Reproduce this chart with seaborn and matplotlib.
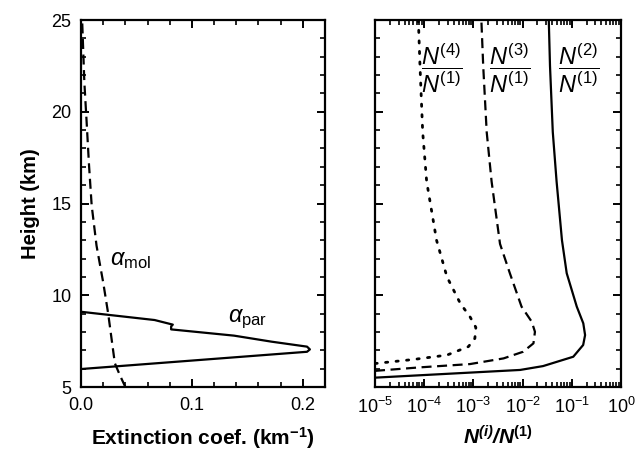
import numpy as np
import pandas as pd
import seaborn as sns
import matplotlib.pyplot as plt
from matplotlib.ticker import MultipleLocator, LogLocator, NullFormatter

# ---------------------------
# DATA
# ---------------------------
# left panel: extinction coefficient (km^-1) vs height (km)
par_height = [5.98, 6.92, 7.05, 7.20, 7.47, 7.80, 8.14, 8.30, 8.40, 8.65, 9.10]
par_ext = [0.0, 0.2039, 0.2065, 0.2039, 0.172, 0.138, 0.0813, 0.0813, 0.0828, 0.0664, 0.0]

mol_height = [5.0, 5.65, 6.3, 9.0, 10.7, 12.7, 14.9, 17.1, 19.5, 21.6, 25.0]
mol_ext = [0.040, 0.035, 0.0305, 0.0245, 0.020, 0.014, 0.0096, 0.0072, 0.005, 0.003, 0.001]

# right panel: concentration ratios vs height (km)
n2_height = [5.51, 5.93, 6.14, 6.65, 7.29, 7.83, 8.47, 9.38, 11.2, 13.0, 16.2, 18.9, 22.5, 25.0]
n2_ratio = [1e-5, 8.9e-3, 2.6e-2, 0.107, 0.17, 0.186, 0.171, 0.126, 0.0787, 0.063, 0.049, 0.041, 0.036, 0.034]

n3_height = [5.88, 6.07, 6.25, 6.56, 6.92, 7.38, 8.01, 8.56, 9.38, 11.2, 12.8, 16.2, 18.9, 22.5, 25.0]
n3_ratio = [1e-5, 8.1e-5, 8.5e-4, 4.1e-3, 1.02e-2, 1.66e-2, 1.78e-2, 1.53e-2, 9.5e-3, 5.5e-3,
            3.47e-3, 2.34e-3, 1.86e-3, 1.58e-3, 1.45e-3]

n4_height = [6.28, 6.5, 6.74, 7.2, 7.65, 8.25, 8.83, 9.56, 11.0, 13.0, 16.2, 18.9, 22.5, 25.0]
n4_ratio = [1e-5, 6.0e-5, 2.9e-4, 7.9e-4, 1.07e-3, 1.12e-3, 8.5e-4, 5.4e-4, 2.9e-4, 1.78e-4,
            1.12e-4, 9.3e-5, 8.2e-5, 7.6e-5]

# label positions for the ratio fractions
frac_x = [2.3e-4, 5.5e-3, 0.14]
frac_k = [4, 3, 2]

# ---------------------------
# STYLE
# ---------------------------
sns.set_theme(style="ticks")
plt.rcParams["font.family"] = ["Liberation Sans", "DejaVu Sans"]
plt.rcParams.update({
    "mathtext.fontset": "custom",
    "mathtext.rm": "Liberation Sans",
    "mathtext.it": "Liberation Sans:italic",
    "mathtext.bf": "Liberation Sans:bold",
    "mathtext.bfit": "Liberation Sans:italic:bold",
    "text.color": "black",
    "axes.labelcolor": "black",
    "axes.edgecolor": "black",
    "xtick.color": "black",
    "ytick.color": "black",
    "axes.linewidth": 1.6,
    "xtick.direction": "in",
    "ytick.direction": "in",
    "xtick.top": True,
    "ytick.right": True,
    "xtick.major.size": 6,
    "ytick.major.size": 6,
    "xtick.minor.size": 3.5,
    "ytick.minor.size": 3.5,
    "xtick.major.width": 1.4,
    "ytick.major.width": 1.4,
    "xtick.minor.width": 1.2,
    "ytick.minor.width": 1.2,
    "xtick.labelsize": 13,
    "ytick.labelsize": 13,
})

fig = plt.figure(figsize=(6.35, 4.58), dpi=100)
ax1 = fig.add_axes([0.1276, 0.155, 0.384, 0.8013])
ax2 = fig.add_axes([0.5906, 0.155, 0.3874, 0.8013])

lw = 1.6
dash = (0, (4.5, 2.5))
dots = (0, (0.8, 3.0))

# ---------------------------
# LEFT PANEL
# ---------------------------
sns.lineplot(x=par_ext, y=par_height, sort=False, estimator=None, ax=ax1,
             color="black", lw=lw)
sns.lineplot(x=mol_ext, y=mol_height, sort=False, estimator=None, ax=ax1,
             color="black", lw=lw, linestyle=dash)

ax1.set_xlim(0, 0.22)
ax1.set_ylim(5, 25)
ax1.xaxis.set_major_locator(MultipleLocator(0.1))
ax1.xaxis.set_minor_locator(MultipleLocator(0.02))
ax1.yaxis.set_major_locator(MultipleLocator(5))
ax1.yaxis.set_minor_locator(MultipleLocator(1))
ax1.xaxis.set_major_formatter(plt.FuncFormatter(lambda v, p: f"{v:.1f}"))
ax1.set_xlabel(r"Extinction coef. (km$^{\mathbf{-1}}$)", fontsize=15, fontweight="bold", labelpad=8)
ax1.set_ylabel("Height (km)", fontsize=14.5, fontweight="bold", labelpad=8)

ax1.text(0.026, 11.9, r"$\alpha_{\mathrm{mol}}$", fontsize=17, va="center")
ax1.text(0.133, 8.7, r"$\alpha_{\mathrm{par}}$", fontsize=17, va="center")

# ---------------------------
# RIGHT PANEL
# ---------------------------
sns.lineplot(x=n2_ratio, y=n2_height, sort=False, estimator=None, ax=ax2,
             color="black", lw=lw)
sns.lineplot(x=n3_ratio, y=n3_height, sort=False, estimator=None, ax=ax2,
             color="black", lw=lw, linestyle=dash)
sns.lineplot(x=n4_ratio, y=n4_height, sort=False, estimator=None, ax=ax2,
             color="black", lw=2.0, linestyle=dots, dash_capstyle="round")

ax2.set_xscale("log")
ax2.set_xlim(1e-5, 1)
ax2.set_ylim(5, 25)
ax2.xaxis.set_major_locator(LogLocator(base=10, numticks=10))
ax2.xaxis.set_minor_locator(LogLocator(base=10, subs=np.arange(2, 10), numticks=10))
ax2.xaxis.set_minor_formatter(NullFormatter())
ax2.yaxis.set_major_locator(MultipleLocator(5))
ax2.yaxis.set_minor_locator(MultipleLocator(1))
ax2.set_yticklabels([])
ax2.set_xlabel(r"$\mathbfit{N}^{\mathbfit{(i)}}\mathbfit{/N}^{\mathbf{(1)}}$", fontsize=15, labelpad=6)

for xpos, k in zip(frac_x, frac_k):
    ax2.text(xpos, 22.4, r"$\dfrac{N^{(%d)}}{N^{(1)}}$" % k, fontsize=17,
             ha="center", va="center")

for ax in (ax1, ax2):
    ax.tick_params(which="both", pad=7)

fig.savefig("out.png", dpi=100)
